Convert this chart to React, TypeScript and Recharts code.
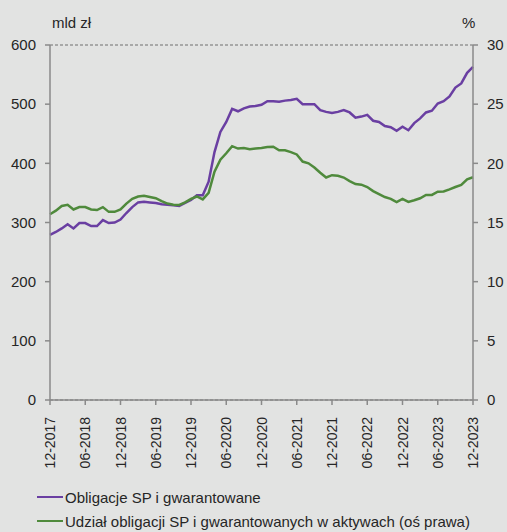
import React from 'react';
import { LineChart, Line, XAxis, YAxis, CartesianGrid } from 'recharts';

// monthly, 12-2017 .. 12-2023 (73 points)
const tickLabels = [
  '12-2017', '06-2018', '12-2018', '06-2019', '12-2019', '06-2020', '12-2020',
  '06-2021', '12-2021', '06-2022', '12-2022', '06-2023', '12-2023',
];

// Obligacje SP i gwarantowane, mld zł
const obligacje = [
  279, 284, 290, 297, 290, 299, 299, 294, 294, 304, 299, 300, 305,
  316, 326, 334, 335, 334, 333, 331, 330, 329, 328, 333, 338,
  346, 346, 369, 419, 453, 470, 492, 488, 493, 496, 497, 499,
  505, 505, 504, 506, 507, 509, 500, 500, 500, 490, 487, 485,
  487, 490, 486, 477, 479, 482, 472, 470, 463, 461, 455, 462,
  456, 468, 476, 486, 489, 501, 505, 513, 528, 535, 553, 563,
];

// Udział obligacji SP i gwarantowanych w aktywach, %
const udzial = [
  15.7, 16.0, 16.4, 16.5, 16.1, 16.3, 16.3, 16.1, 16.05, 16.3, 15.9, 15.9, 16.1,
  16.6, 17.0, 17.2, 17.25, 17.15, 17.05, 16.8, 16.6, 16.5, 16.48, 16.7, 17.0,
  17.2, 16.95, 17.5, 19.3, 20.3, 20.85, 21.45, 21.25, 21.3, 21.2, 21.25, 21.3,
  21.38, 21.4, 21.1, 21.1, 20.95, 20.75, 20.15, 20.0, 19.65, 19.2, 18.8, 19.0,
  18.95, 18.8, 18.5, 18.25, 18.2, 18.0, 17.65, 17.4, 17.15, 17.0, 16.72, 17.0,
  16.74, 16.88, 17.05, 17.33, 17.33, 17.6, 17.62, 17.8, 18.0, 18.17, 18.65, 18.82,
];

const leftTicks = [0, 100, 200, 300, 400, 500, 600];
const rightTicks = [0, 5, 10, 15, 20, 25, 30];

const PURPLE = '#6a3fa2';
const GREEN = '#4f8a3c';
const AXIS = '#8a8a8a';
const TEXT = '#262626';
const FONT = '"Liberation Sans", Arial, sans-serif';

const data = obligacje.map((v, i) => ({ m: i, obligacje: v, udzial: udzial[i] }));
const xTicks = tickLabels.map((_, i) => i * 6);

const XTick = ({ x, y, payload }: any) => (
  <text
    x={x}
    y={y + 10}
    transform={`rotate(-90, ${x}, ${y + 10})`}
    textAnchor="end"
    dominantBaseline="central"
    fontSize={14}
    fontFamily={FONT}
    fill={TEXT}
  >
    {tickLabels[payload.value / 6]}
  </text>
);

const legendItems = [
  { name: 'Obligacje SP i gwarantowane', color: PURPLE, top: 497 },
  { name: 'Udział obligacji SP i gwarantowanych w aktywach (oś prawa)', color: GREEN, top: 521 },
];

export default function App() {
  return (
    <div style={{ position: 'absolute', left: 0, top: 0, width: 507, height: 532, background: '#e2e3e2', fontFamily: FONT, color: TEXT }}>
      <LineChart width={507} height={532} data={data} margin={{ top: 45, right: 0, left: 0, bottom: 0 }}>
        <CartesianGrid vertical={false} stroke="#6e6e6e" strokeDasharray="3 2" strokeWidth={1} />
        <XAxis
          dataKey="m"
          type="number"
          domain={[0, 72]}
          ticks={xTicks}
          interval={0}
          height={132}
          stroke={AXIS}
          strokeWidth={1.5}
          tickSize={5}
          tick={<XTick />}
        />
        <YAxis
          yAxisId="left"
          domain={[0, 600]}
          ticks={leftTicks}
          width={50}
          stroke={AXIS}
          strokeWidth={1.5}
          tickSize={5}
          tickMargin={9}
          tick={{ fill: TEXT, fontSize: 15, fontFamily: FONT }}
        />
        <YAxis
          yAxisId="right"
          orientation="right"
          domain={[0, 30]}
          ticks={rightTicks}
          width={34}
          stroke={AXIS}
          strokeWidth={1.5}
          tickSize={5}
          tickMargin={9}
          tick={{ fill: TEXT, fontSize: 15, fontFamily: FONT, textAnchor: 'start' }}
        />
        <Line yAxisId="left" dataKey="obligacje" stroke={PURPLE} strokeWidth={2.5} dot={false} isAnimationActive={false} />
        <Line yAxisId="right" dataKey="udzial" stroke={GREEN} strokeWidth={2.5} dot={false} isAnimationActive={false} />
      </LineChart>
      <div style={{ position: 'absolute', left: 52, top: 14, fontSize: 15, lineHeight: '18px' }}>mld zł</div>
      <div style={{ position: 'absolute', left: 462, top: 14, fontSize: 15, lineHeight: '18px' }}>%</div>
      {legendItems.map((it) => (
        <div key={it.name} style={{ position: 'absolute', left: 37, top: it.top - 9, height: 18, display: 'flex', alignItems: 'center', fontSize: 15, whiteSpace: 'nowrap' }}>
          <span style={{ display: 'inline-block', width: 26, height: 2, background: it.color, marginRight: 2 }} />
          <span>{it.name}</span>
        </div>
      ))}
    </div>
  );
}
